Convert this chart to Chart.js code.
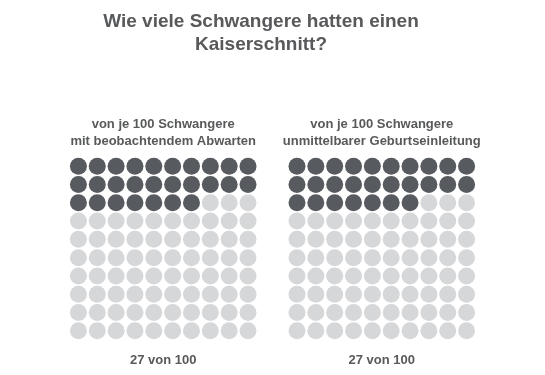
<!DOCTYPE html>
<html lang="de">
<head>
<meta charset="utf-8">
<script src="https://cdn.jsdelivr.net/npm/chart.js@4.4.1/dist/chart.umd.min.js"></script>
<style>
  html, body { margin: 0; padding: 0; background: #fff; }
  #wrap { width: 545px; height: 375px; position: relative; }
</style>
</head>
<body>
<div id="wrap"><canvas id="waffle"></canvas></div>
<script>
// ── Data ──────────────────────────────────────────────────────────────────
const titleLines = ["Wie viele Schwangere hatten einen", "Kaiserschnitt?"];
const groupLabels = [
  ["von je 100 Schwangere", "mit beobachtendem Abwarten"],
  ["von je 100 Schwangere", "unmittelbarer Geburtseinleitung"],
];
const caesareans = [27, 27];
const total = 100;
const perRow = 10;

const darkColor = "#575a5e";
const lightColor = "#d6d7d9";
const textColor = "#58595b";
const fontFamily = "'Liberation Sans', Arial, sans-serif";

// horizontal offset of each waffle block in column units
const groupOffset = [0, 11.6];

// Build one scatter dataset per group, a point per person
const datasets = caesareans.map((count, g) => {
  const pts = [];
  const colors = [];
  for (let i = 0; i < total; i++) {
    pts.push({ x: groupOffset[g] + (i % perRow), y: Math.floor(i / perRow) });
    colors.push(i < count ? darkColor : lightColor);
  }
  return {
    label: groupLabels[g].join(" "),
    data: pts,
    pointBackgroundColor: colors,
    pointBorderWidth: 0,
    pointRadius: 8.5,
    pointHoverRadius: 8.5,
    clip: false,
  };
});

// ── Text plugin: title, group headings, counts ────────────────────────────
const textPlugin = {
  id: "waffleText",
  afterDraw(chart) {
    const { ctx, scales } = chart;
    ctx.save();
    ctx.fillStyle = textColor;
    ctx.textAlign = "center";
    ctx.textBaseline = "alphabetic";

    ctx.font = `bold 19px ${fontFamily}`;
    titleLines.forEach((t, i) => ctx.fillText(t, 261, 27 + i * 23));

    ctx.font = `bold 13px ${fontFamily}`;
    caesareans.forEach((count, g) => {
      const cx = scales.x.getPixelForValue(groupOffset[g] + (perRow - 1) / 2);
      groupLabels[g].forEach((t, i) => ctx.fillText(t, cx, 128 + i * 17));
      ctx.fillText(`${count} von ${total}`, cx, 364);
    });
    ctx.restore();
  },
};

new Chart(document.getElementById("waffle"), {
  type: "scatter",
  data: { datasets },
  options: {
    responsive: true,
    maintainAspectRatio: false,
    animation: false,
    events: [],
    layout: { padding: { left: 69, right: 69, top: 157, bottom: 35 } },
    plugins: {
      legend: { display: false },
      tooltip: { enabled: false },
    },
    scales: {
      x: { display: false, min: -0.5, max: 21.1 },
      y: { display: false, min: -0.5, max: 9.5, reverse: true },
    },
  },
  plugins: [textPlugin],
});
</script>
</body>
</html>
